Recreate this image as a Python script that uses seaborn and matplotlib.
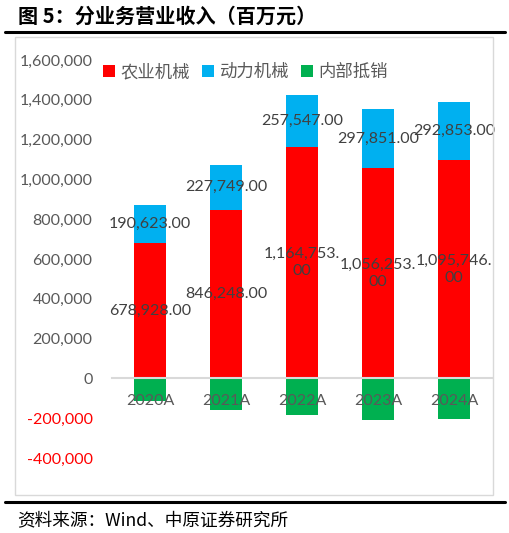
import matplotlib
matplotlib.use("Agg")
import matplotlib.pyplot as plt
from matplotlib.patches import Patch, Rectangle
from matplotlib.lines import Line2D
import seaborn as sns
import pandas as pd
import numpy as np

years = ['2020A', '2021A', '2022A', '2023A', '2024A']
agri = [678928.00, 846248.00, 1164753.00, 1056253.00, 1095746.00]
power = [190623.00, 227749.00, 257547.00, 297851.00, 292853.00]
elim = [-115000, -158000, -182000, -207000, -202000]
series_names = ['农业机械', '动力机械', '内部抵销']
yticks = [-400000, -200000, 0, 200000, 400000, 600000, 800000, 1000000, 1200000, 1400000, 1600000]

RED = '#FF0000'
BLUE = '#00B0F0'
GREEN = '#00B050'
LBL = '#404040'
TICK = '#595959'

sns.set_theme(style='white')
plt.rcParams['font.family'] = ['Lato', 'Noto Sans CJK SC', 'DejaVu Sans']

W, H = 510, 533
fig = plt.figure(figsize=(W / 100, H / 100), dpi=100)
ax = fig.add_axes([112 / W, 1 - 458 / H, (492 - 112) / W, (458 - 60) / H])

df = pd.DataFrame({'year': years, 'agri': agri, 'power': power, 'elim': elim})
df['total'] = df['agri'] + df['power']

bw = 0.42
sns.barplot(data=df, x='year', y='total', color=BLUE, saturation=1, width=bw, ax=ax,
            zorder=1, linewidth=0, edgecolor='none')
sns.barplot(data=df, x='year', y='agri', color=RED, saturation=1, width=bw, ax=ax,
            zorder=1, linewidth=0, edgecolor='none')
sns.barplot(data=df, x='year', y='elim', color=GREEN, saturation=1, width=bw, ax=ax,
            zorder=1, linewidth=0, edgecolor='none')


def fmt(v):
    s = f"{v:,.2f}"
    if v >= 1e6:
        s = s.replace('.', '.\n')
    return s


for i, (a, p) in enumerate(zip(agri, power)):
    ax.text(i, a / 2, fmt(a), ha='center', va='center', fontsize=11.5, color=LBL,
            linespacing=1.25, zorder=5)
    ax.text(i, a + p / 2, fmt(p), ha='center', va='center', fontsize=11.5, color=LBL,
            zorder=5)

ax.set_xlim(-0.5, 4.5)
ax.set_ylim(-400000, 1600000)
ax.set_yticks(yticks)
ax.set_yticklabels([f"{t:,}" for t in yticks])
for t, lab in zip(yticks, ax.get_yticklabels()):
    lab.set_color(RED if t < 0 else TICK)
    lab.set_fontsize(11.5)
ax.tick_params(axis='y', length=0, pad=14)
ax.tick_params(axis='x', length=0, pad=11, labelsize=11.5, labelcolor=TICK)
ax.set_xlabel('')
ax.set_ylabel('')
for s in ['left', 'right', 'top']:
    ax.spines[s].set_visible(False)
ax.spines['bottom'].set_position(('data', 0))
ax.spines['bottom'].set_color('#D9D9D9')
ax.spines['bottom'].set_linewidth(1.5)
ax.set_axisbelow(False)
for lab in ax.get_xticklabels():
    lab.set_zorder(6)

handles = [Patch(facecolor=c, edgecolor='none') for c in (RED, BLUE, GREEN)]
fig.legend(handles, series_names, loc='center left', bbox_to_anchor=(103 / W, 1 - 72 / H),
           ncol=3, frameon=False, handlelength=0.7, handleheight=0.7,
           handletextpad=0.3, columnspacing=0.7, borderpad=0, borderaxespad=0,
           labelcolor=TICK, prop={'family': ['Noto Sans CJK SC'], 'size': 12.5})

# chart frame
fig.add_artist(Rectangle((15 / W, 1 - 495 / H), (493 - 15) / W, (495 - 37) / H,
                         transform=fig.transFigure, fill=False, edgecolor='#D9D9D9', lw=1))
# title and rules
fig.text(18 / W, 1 - 16 / H, '图 5：分业务营业收入（百万元）', ha='left', va='center',
         fontsize=14.5, fontweight='bold', color='black', family=['Noto Sans CJK SC'])
fig.add_artist(Line2D([5 / W, 505 / W], [1 - 31.5 / H, 1 - 31.5 / H], transform=fig.transFigure,
                      color='black', lw=2.2))
fig.add_artist(Line2D([5 / W, 505 / W], [1 - 502 / H, 1 - 502 / H], transform=fig.transFigure,
                      color='black', lw=2.2))
fig.text(17 / W, 1 - 520 / H, '资料来源：Wind、中原证券研究所', ha='left', va='center',
         fontsize=12.7, color='black', family=['Noto Sans CJK SC'])

fig.savefig('out.png', dpi=100)
